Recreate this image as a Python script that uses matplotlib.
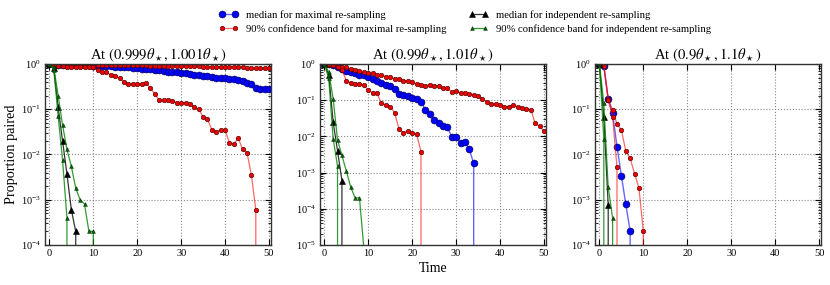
import matplotlib
matplotlib.use("Agg")
import matplotlib.pyplot as plt

plt.rcParams['font.family'] = ['Liberation Serif', 'DejaVu Serif']
plt.rcParams['mathtext.fontset'] = 'stix'

# ---- data ----
titles = [r'At $(0.999\theta_\star,1.001\theta_\star)$',
          r'At $(0.99\theta_\star,1.01\theta_\star)$',
          r'At $(0.9\theta_\star,1.1\theta_\star)$']
ylims = [(1e-4, 1.0), (1e-5, 1.0), (1e-4, 1.0)]
xticks = [0, 10, 20, 30, 40, 50]
labels = ['median for maximal re-sampling',
          '90% confidence band for maximal re-sampling',
          'median for independent re-sampling',
          '90% confidence band for independent re-sampling']

# panel 1
p1_med_max = [1.0, 0.98, 0.97, 0.97, 0.96, 0.96, 0.95, 0.95, 0.94, 0.93, 0.92, 0.92, 0.91, 0.9, 0.89, 0.88,
              0.87, 0.85, 0.84, 0.82, 0.8, 0.79, 0.78, 0.76, 0.74, 0.72, 0.7, 0.68, 0.66, 0.65, 0.63, 0.62,
              0.6, 0.58, 0.56, 0.55, 0.53, 0.52, 0.5, 0.49, 0.48, 0.47, 0.46, 0.44, 0.42, 0.39, 0.36, 0.3,
              0.28, 0.28, 0.28]
p1_hi_max = [1.0, 0.99, 0.98, 0.98, 0.97, 0.97, 0.97, 0.96, 0.96, 0.96, 0.96, 0.95, 0.95, 0.95, 0.95, 0.94,
             0.94, 0.94, 0.94, 0.93, 0.93, 0.93, 0.93, 0.92, 0.92, 0.92, 0.91, 0.91, 0.91, 0.9, 0.9, 0.9,
             0.89, 0.89, 0.89, 0.88, 0.88, 0.87, 0.87, 0.86, 0.86, 0.85, 0.85, 0.84, 0.84, 0.83, 0.82, 0.82,
             0.81, 0.8, 0.8]
p1_lo_max = [1.0, 0.93, 0.92, 0.9, 0.88, 0.87, 0.86, 0.86, 0.85, 0.84, 0.84, 0.74, 0.66, 0.65, 0.58, 0.55,
             0.48, 0.4, 0.37, 0.37, 0.36, 0.37, 0.39, 0.29, 0.22, 0.16, 0.16, 0.16, 0.155, 0.14, 0.14, 0.14,
             0.13, 0.11, 0.1, 0.068, 0.06, 0.035, 0.032, 0.035, 0.035, 0.018, 0.017, 0.023, 0.013, 0.011,
             0.0035, 0.0006, 0]
p1_med_ind = [1.0, 0.8, 0.11, 0.02, 0.0037, 0.0006, 0.0002, 0]
p1_hi_ind = [1.0, 0.85, 0.2, 0.045, 0.013, 0.0055, 0.0018, 0.001, 0.0008, 0.0002, 0.0002, 0]
p1_lo_ind = [1.0, 0.75, 0.07, 0.0075, 0.0004, 0]

# panel 2
p2_med_max = [1.0, 0.97, 0.92, 0.82, 0.72, 0.65, 0.6, 0.55, 0.51, 0.49, 0.45, 0.385, 0.35, 0.305, 0.27,
              0.25, 0.21, 0.145, 0.14, 0.13, 0.117, 0.106, 0.091, 0.054, 0.041, 0.028, 0.023, 0.019, 0.018,
              0.0098, 0.0094, 0.0067, 0.0071, 0.0044, 0.0018, 0]
p2_hi_max = [1.0, 0.96, 0.92, 0.88, 0.84, 0.81, 0.74, 0.68, 0.63, 0.6, 0.58, 0.55, 0.51, 0.49, 0.45, 0.43,
             0.39, 0.38, 0.35, 0.33, 0.31, 0.28, 0.27, 0.25, 0.27, 0.25, 0.24, 0.22, 0.22, 0.17, 0.18, 0.16,
             0.155, 0.15, 0.14, 0.13, 0.11, 0.089, 0.079, 0.079, 0.072, 0.066, 0.066, 0.075, 0.064, 0.061,
             0.058, 0.055, 0.023, 0.019, 0.014]
p2_lo_max = [1.0, 0.97, 0.92, 0.85, 0.68, 0.35, 0.3, 0.28, 0.28, 0.26, 0.19, 0.16, 0.155, 0.082, 0.074,
             0.066, 0.045, 0.016, 0.0127, 0.014, 0.0127, 0.0117, 0.0038, 0]
p2_med_ind = [1.0, 0.5, 0.025, 0.004, 0.0006, 0]
p2_hi_ind = [1.0, 0.6, 0.11, 0.008, 0.003, 0.0011, 0.0004, 0.0002, 0.0002, 8e-6, 0]
p2_lo_ind = [1.0, 0.4, 0.0087, 0.0015, 0]

# panel 3
p3_med_max = [1.0, 0.92, 0.17, 0.081, 0.015, 0.0034, 0.0008, 0.0002, 0]
p3_hi_max = [1.0, 0.92, 0.17, 0.096, 0.047, 0.035, 0.012, 0.0082, 0.0038, 0.0018, 0.0002, 0]
p3_lo_max = [1.0, 0.9, 0.16, 0.068, 0.0052, 0]
p3_med_ind = [1.0, 0.069, 0.00076, 0]
p3_hi_ind = [1.0, 0.135, 0.0019, 0.0004, 0]
p3_lo_ind = [1.0, 0.022, 0]

panels = [
    (p1_med_max, p1_hi_max, p1_lo_max, p1_med_ind, p1_hi_ind, p1_lo_ind),
    (p2_med_max, p2_hi_max, p2_lo_max, p2_med_ind, p2_hi_ind, p2_lo_ind),
    (p3_med_max, p3_hi_max, p3_lo_max, p3_med_ind, p3_hi_ind, p3_lo_ind),
]

fig = plt.figure(figsize=(8.3, 2.85), dpi=100)
lefts = [0.0542, 0.3855, 0.7169]

handles = None
for i, (med_max, hi_max, lo_max, med_ind, hi_ind, lo_ind) in enumerate(panels):
    ax = fig.add_axes([lefts[i], 0.1404, 0.2725, 0.635])
    ax.set_yscale('log')

    h1, = ax.plot(range(len(med_max)), med_max, '-', color=(0, 0, 1, 0.6), lw=1,
                  marker='o', ms=5, mfc='#0000ff', mec='#000040', mew=0.4)
    h2, = ax.plot(range(len(hi_max)), hi_max, '-', color=(1, 0, 0, 0.6), lw=0.9,
                  marker='o', ms=3.3, mfc='#ee0000', mec='#400000', mew=0.4)
    ax.plot(range(len(lo_max)), lo_max, '-', color=(1, 0, 0, 0.6), lw=0.9,
            marker='o', ms=3.3, mfc='#ee0000', mec='#400000', mew=0.4)
    h3, = ax.plot(range(len(med_ind)), med_ind, '-', color=(0, 0, 0, 0.8), lw=0.9,
                  marker='^', ms=4.5, mfc='k', mec='k', mew=0.4)
    h4, = ax.plot(range(len(hi_ind)), hi_ind, '-', color=(0, 0.5, 0, 0.8), lw=0.9,
                  marker='^', ms=2.8, mfc='#006400', mec='#002000', mew=0.3)
    ax.plot(range(len(lo_ind)), lo_ind, '-', color=(0, 0.5, 0, 0.8), lw=0.9,
            marker='^', ms=2.8, mfc='#006400', mec='#002000', mew=0.3)
    if handles is None:
        handles = [h1, h2, h3, h4]

    ax.set_xlim(-1, 50.5)
    ax.set_ylim(*ylims[i])
    ax.set_xticks(xticks)
    ax.grid(True, which='major', linestyle=':', color='#888888', lw=0.8)
    ax.tick_params(which='both', direction='in', top=True, right=True, labelsize=7.5, pad=3)
    ax.tick_params(which='major', length=4)
    ax.tick_params(which='minor', length=2)
    for s in ax.spines.values():
        s.set_linewidth(1.0)
        s.set_color('#333333')
    ax.set_title(titles[i], fontsize=10.5, pad=1)
    if i == 0:
        ax.set_ylabel('Proportion paired', fontsize=10.3, labelpad=2)
    if i == 1:
        ax.set_xlabel('Time', fontsize=10, labelpad=3)

fig.legend(handles, labels, loc='upper left', bbox_to_anchor=(0.264, 0.965), ncol=2,
           frameon=False, fontsize=7.7, numpoints=2, handlelength=1.8, columnspacing=2.1,
           handletextpad=0.7, labelspacing=0.45, borderpad=0, borderaxespad=0)

fig.savefig('out.png', dpi=100)
